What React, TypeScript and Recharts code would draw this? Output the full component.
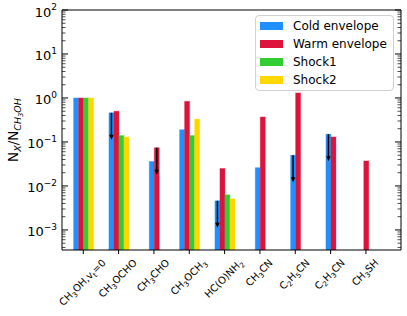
import React from "react";
import { BarChart, Bar, XAxis, YAxis, Legend, ReferenceLine } from "recharts";

// "_x" marks a one-character subscript
const categories = [
  "CH_3OH,v_t=0",
  "CH_3OCHO",
  "CH_3CHO",
  "CH_3OCH_3",
  "HC(O)NH_2",
  "CH_3CN",
  "C_2H_5CN",
  "C_2H_3CN",
  "CH_3SH",
];
const coldEnvelope = [1.0, 0.46, 0.036, 0.19, 0.0046, 0.026, 0.05, 0.15, null];
const warmEnvelope = [1.0, 0.5, 0.074, 0.84, 0.025, 0.37, 1.3, 0.13, 0.037];
const shock1 = [1.0, 0.14, null, 0.14, 0.0063, null, null, null, null];
const shock2 = [1.0, 0.13, null, 0.33, 0.0051, null, null, null, null];
const coldUpperLimit = [false, true, false, false, true, false, true, true, false];
const warmUpperLimit = [false, false, true, false, false, false, false, false, false];

const majorTicks = [1e-3, 1e-2, 1e-1, 1, 10, 100];
const minorSteps = [2, 3, 4, 5, 6, 7, 8, 9];
const lowMinor = [4, 5, 6, 7, 8, 9];

const seriesKeys = ["cold", "warm", "shock1", "shock2"];
const seriesNames = ["Cold envelope", "Warm envelope", "Shock1", "Shock2"];
const colors = ["#1E90FF", "#DC143C", "#32CD32", "#FFD700"];

const data = categories.map((name, i) => ({
  name,
  cold: coldEnvelope[i],
  warm: warmEnvelope[i],
  shock1: shock1[i],
  shock2: shock2[i],
}));

const yTicks = [
  ...lowMinor.map((s) => s * 1e-4),
  ...majorTicks.flatMap((m, i) =>
    i < majorTicks.length - 1 ? [m, ...minorSteps.map((s) => s * m)] : [m]
  ),
];

const FONT = '"DejaVu Sans", sans-serif';

function parse(s: string) {
  const parts: { t: string; sub: boolean }[] = [];
  let i = 0;
  while (i < s.length) {
    if (s[i] === "_") {
      parts.push({ t: s[i + 1], sub: true });
      i += 2;
    } else {
      let j = i;
      while (j < s.length && s[j] !== "_") j++;
      parts.push({ t: s.slice(i, j), sub: false });
      i = j;
    }
  }
  return parts;
}

let ctx: CanvasRenderingContext2D | null = null;
function measure(t: string, fs: number) {
  if (!ctx) ctx = document.createElement("canvas").getContext("2d");
  if (!ctx) return t.length * fs * 0.62;
  ctx.font = `${fs}px "DejaVu Sans"`;
  return ctx.measureText(t).width;
}

const XTick = (props: any) => {
  const { x, y, payload } = props;
  const parts = parse(String(payload.value));
  const fs = 10;
  const sfs = fs * 0.7;
  const L = parts.reduce((s, p) => s + measure(p.t, p.sub ? sfs : fs), 0);
  const a = fs * 0.76;
  const d = fs * 0.3;
  const ex = x + 0.3536 * (L + a - d);
  const ey = y + 4 + 0.7071 * a;
  let shifted = false;
  return (
    <text
      transform={`translate(${ex},${ey}) rotate(-45)`}
      textAnchor="end"
      fontSize={fs}
      fontFamily={FONT}
      fill="#000"
    >
      {parts.map((p, k) => {
        let dy = 0;
        if (p.sub && !shifted) {
          dy = 2.5;
          shifted = true;
        } else if (!p.sub && shifted) {
          dy = -2.5;
          shifted = false;
        }
        return (
          <tspan key={k} dy={dy} fontSize={p.sub ? sfs : fs}>
            {p.t}
          </tspan>
        );
      })}
    </text>
  );
};

const YTick = (props: any) => {
  const { x, y, payload, side } = props;
  const v = payload.value as number;
  const lg = Math.log10(v);
  const major = Math.abs(lg - Math.round(lg)) < 1e-6;
  const len = major ? 6 : 3.5;
  const dir = side === "left" ? 1 : -1;
  const exp = Math.round(lg);
  return (
    <g>
      <line
        x1={x}
        x2={x + dir * len}
        y1={y}
        y2={y}
        stroke="#000"
        strokeWidth={major ? 1 : 0.7}
      />
      {side === "left" && major && (
        <text
          x={x - 5}
          y={y + 6.5}
          textAnchor="end"
          fontSize={13}
          fontFamily={FONT}
          fill="#000"
        >
          10
          <tspan dy={-6.5} fontSize={9}>
            {exp < 0 ? `\u2212${-exp}` : `${exp}`}
          </tspan>
        </text>
      )}
    </g>
  );
};

const makeShape = (si: number) => (props: any) => {
  const { x, y, width, height, payload } = props;
  const key = seriesKeys[si];
  if (payload == null || payload[key] == null || !isFinite(y) || !isFinite(height))
    return <g />;
  const idx = categories.indexOf(payload.name);
  const present = seriesKeys.filter((k) => payload[k] != null);
  const pos = present.indexOf(key);
  const shift = (pos - (present.length - 1) / 2 - (si - 1.5)) * width;
  const bx = x + shift;
  const cx = bx + width / 2;
  const limit =
    (si === 0 && coldUpperLimit[idx]) || (si === 1 && warmUpperLimit[idx]);
  return (
    <g>
      <rect
        x={bx}
        y={y}
        width={width}
        height={height}
        fill={colors[si]}
        stroke={colors[si]}
        strokeOpacity={0.35}
        strokeWidth={1}
      />
      {limit && (
        <g>
          <line x1={cx} x2={cx} y1={y} y2={y + 23} stroke="#000" strokeWidth={1.5} />
          <polygon
            points={`${cx - 2.3},${y + 22} ${cx + 2.3},${y + 22} ${cx},${y + 27}`}
            fill="#000"
          />
        </g>
      )}
    </g>
  );
};

const YLabel = (props: any) => {
  const vb = props.viewBox || { y: 10, height: 240 };
  const cy = vb.y + vb.height / 2;
  const fs = 13.5;
  return (
    <text
      transform={`translate(18,${cy}) rotate(-90)`}
      textAnchor="middle"
      fontSize={fs}
      fontFamily={FONT}
      fill="#000"
    >
      N
      <tspan dy={2.8} fontSize={fs * 0.7} fontStyle="italic">
        X
      </tspan>
      <tspan dy={-2.8}>/N</tspan>
      <tspan dy={2.8} fontSize={fs * 0.7} fontStyle="italic">
        CH
      </tspan>
      <tspan dy={1.8} fontSize={fs * 0.5} fontStyle="italic">
        3
      </tspan>
      <tspan dy={-1.8} fontSize={fs * 0.7} fontStyle="italic">
        OH
      </tspan>
    </text>
  );
};

const LegendBox = () => (
  <div
    style={{
      boxSizing: "border-box",
      width: 139,
      height: 76,
      border: "1px solid #d0d0d0",
      borderRadius: 4,
      background: "rgba(255,255,255,0.85)",
      padding: "1px 0 0 4px",
      fontFamily: FONT,
      fontSize: 12,
      color: "#000",
    }}
  >
    {seriesNames.map((n, i) => (
      <div
        key={n}
        style={{ height: 18, display: "flex", alignItems: "center" }}
      >
        <span
          style={{
            display: "inline-block",
            width: 23,
            height: 8.5,
            background: colors[i],
            marginRight: 10,
          }}
        />
        <span>{n}</span>
      </div>
    ))}
  </div>
);

export default function App() {
  return (
    <div style={{ position: "absolute", left: 0, top: 0 }}>
      <BarChart
        width={407}
        height={316}
        data={data}
        margin={{ top: 10, right: 0, bottom: 0, left: 0 }}
        barGap={0}
        barSize={5}
        style={{ fontFamily: FONT }}
      >
        <XAxis
          dataKey="name"
          interval={0}
          height={66}
          padding={{ left: 3.6, right: 17.4 }}
          axisLine={{ stroke: "#000" }}
          tickLine={{ stroke: "#000" }}
          tickSize={4}
          tickMargin={0}
          tick={<XTick />}
        />
        <YAxis
          yAxisId="l"
          orientation="left"
          width={62}
          scale="log"
          type="number"
          domain={[3.5e-4, 100]}
          allowDataOverflow
          ticks={yTicks}
          interval={0}
          tickLine={false}
          tickSize={0}
          tickMargin={0}
          axisLine={{ stroke: "#000" }}
          tick={<YTick side="left" />}
          label={{ content: <YLabel /> }}
        />
        <YAxis
          yAxisId="r"
          orientation="right"
          width={6}
          scale="log"
          type="number"
          domain={[3.5e-4, 100]}
          allowDataOverflow
          ticks={yTicks}
          interval={0}
          tickLine={false}
          tickSize={0}
          tickMargin={0}
          axisLine={{ stroke: "#000" }}
          tick={<YTick side="right" />}
        />
        <ReferenceLine yAxisId="l" y={100} stroke="#000" ifOverflow="extendDomain" />
        <Legend
          layout="horizontal"
          verticalAlign="middle"
          align="center"
          wrapperStyle={{ left: 255, top: 15, width: 139, height: 76 }}
          content={() => <LegendBox />}
        />
        {seriesKeys.map((k, i) => (
          <Bar
            key={k}
            yAxisId="l"
            dataKey={k}
            name={seriesNames[i]}
            fill={colors[i]}
            isAnimationActive={false}
            shape={makeShape(i)}
          />
        ))}
      </BarChart>
    </div>
  );
}
